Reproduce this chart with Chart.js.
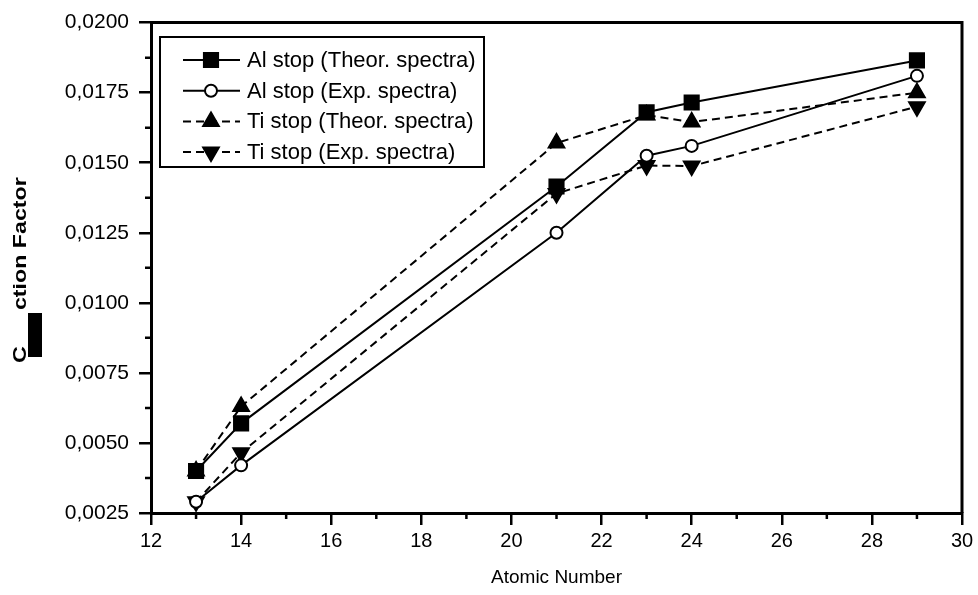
<!DOCTYPE html>
<html>
<head>
<meta charset="utf-8">
<script src="https://cdn.jsdelivr.net/npm/chart.js@4.4.0/dist/chart.umd.min.js"></script>
<style>
  body { margin: 0; background: #fff; }
  #wrap { width: 978px; height: 595px; }
</style>
</head>
<body>
<div id="wrap"><canvas id="myChart" width="978" height="595"></canvas></div>
<script>
// atomic numbers
const atomicNumbers = [13, 14, 21, 23, 24, 29];
const alTheor = [0.0040, 0.0057, 0.01415, 0.0168, 0.01715, 0.01865];
const alExp = [0.0029, 0.0042, 0.0125, 0.01525, 0.0156, 0.0181];
const tiTheor = [0.0040, 0.0063, 0.0157, 0.0167, 0.01645, 0.0175];
const tiExp = [0.0029, 0.00465, 0.0139, 0.0149, 0.01488, 0.0170];
const seriesNames = ['Al stop (Theor. spectra)', 'Al stop (Exp. spectra)', 'Ti stop (Theor. spectra)', 'Ti stop (Exp. spectra)'];
const xMinorTicks = [13, 15, 17, 19, 21, 23, 25, 27, 29];
const yMinorTicks = [0.00375, 0.00625, 0.00875, 0.01125, 0.01375, 0.01625, 0.01875];

const FONT = 'Liberation Sans, Arial, sans-serif';

function toPoints(ys) {
    let pts = [];
    for (let i = 0; i < atomicNumbers.length; i++) {
        pts.push({x: atomicNumbers[i], y: ys[i]});
    }
    return pts;
}

function makeSet(label, ys, style, radius, rotation, fill, dash) {
    return {
        label: label,
        data: toPoints(ys),
        borderColor: '#000',
        borderWidth: 2,
        borderDash: dash,
        pointStyle: style,
        pointRadius: radius,
        pointRotation: rotation,
        pointBackgroundColor: fill,
        pointBorderColor: '#000',
        pointBorderWidth: 2,
        tension: 0
    };
}

// frame, minor ticks, legend box and y title
const extras = {
    id: 'extras',
    afterDraw(chart) {
        const ctx = chart.ctx;
        const a = chart.chartArea;
        const xs = chart.scales.x, ys = chart.scales.y;
        ctx.save();
        ctx.strokeStyle = '#000';
        ctx.lineWidth = 3;
        ctx.beginPath();
        ctx.moveTo(a.left, a.top);
        ctx.lineTo(a.right, a.top);
        ctx.lineTo(a.right, a.bottom);
        ctx.stroke();

        ctx.lineWidth = 2.5;
        ctx.beginPath();
        for (let v of xMinorTicks) {
            const px = xs.getPixelForValue(v);
            ctx.moveTo(px, a.bottom);
            ctx.lineTo(px, a.bottom + 6);
        }
        for (let v of yMinorTicks) {
            const py = ys.getPixelForValue(v);
            ctx.moveTo(a.left, py);
            ctx.lineTo(a.left - 6, py);
        }
        ctx.stroke();

        // legend
        ctx.fillStyle = '#fff';
        ctx.fillRect(160, 37, 324, 130);
        ctx.lineWidth = 2;
        ctx.strokeRect(160, 37, 324, 130);
        ctx.font = '22px ' + FONT;
        ctx.textBaseline = 'middle';
        chart.data.datasets.forEach(function (ds, i) {
            const y = 60 + i * 30.7;
            ctx.setLineDash(ds.borderDash || []);
            ctx.lineWidth = 2;
            ctx.beginPath();
            ctx.moveTo(183, y);
            ctx.lineTo(240, y);
            ctx.stroke();
            ctx.setLineDash([]);
            ctx.fillStyle = ds.pointBackgroundColor;
            Chart.helpers.drawPoint(ctx, {
                pointStyle: ds.pointStyle,
                radius: ds.pointRadius,
                rotation: ds.pointRotation,
                borderWidth: 2
            }, 211, y);
            ctx.fillStyle = '#000';
            ctx.fillText(ds.label, 247, y + 1);
        });

        // y axis title (partly blacked out in the original)
        ctx.translate(26, 363);
        ctx.rotate(-Math.PI / 2);
        ctx.fillStyle = '#000';
        ctx.fillRect(6, 2, 44, 14);
        ctx.scale(1.29, 1);
        ctx.font = 'bold 18px ' + FONT;
        ctx.textBaseline = 'alphabetic';
        ctx.fillText('C', 0, 0);
        ctx.fillText('ction Factor', 41, 0);
        ctx.restore();
    }
};

new Chart(document.getElementById('myChart'), {
    type: 'line',
    data: {
        datasets: [
            makeSet(seriesNames[0], alTheor, 'rect', 10, 0, '#000', []),
            makeSet(seriesNames[1], alExp, 'circle', 6, 0, '#fff', []),
            makeSet(seriesNames[2], tiTheor, 'triangle', 9, 0, '#000', [8, 5]),
            makeSet(seriesNames[3], tiExp, 'triangle', 9, 180, '#000', [8, 5])
        ]
    },
    options: {
        responsive: false,
        animation: false,
        layout: { padding: { top: 17, right: 16, left: 0, bottom: 0 } },
        plugins: {
            legend: { display: false },
            tooltip: { enabled: false }
        },
        scales: {
            x: {
                type: 'linear',
                min: 12,
                max: 30,
                afterFit: function (s) { s.height = 82; },
                ticks: {
                    stepSize: 2,
                    color: '#000',
                    padding: 4,
                    maxRotation: 0,
                    font: { family: FONT, size: 20 }
                },
                grid: { drawOnChartArea: false, color: '#000', lineWidth: 2.5, tickLength: 12 },
                border: { display: true, color: '#000', width: 3 },
                title: {
                    display: true,
                    text: 'Atomic Number',
                    color: '#000',
                    padding: { top: 0, bottom: 6 },
                    font: { family: FONT, size: 19 }
                }
            },
            y: {
                min: 0.0025,
                max: 0.02,
                afterFit: function (s) { s.width = 151; },
                ticks: {
                    stepSize: 0.0025,
                    color: '#000',
                    padding: 10,
                    font: { family: FONT, size: 21 },
                    callback: function (v) { return v.toFixed(4).replace('.', ','); }
                },
                grid: { drawOnChartArea: false, color: '#000', lineWidth: 2.5, tickLength: 12 },
                border: { display: true, color: '#000', width: 3 }
            }
        }
    },
    plugins: [extras]
});
</script>
</body>
</html>
